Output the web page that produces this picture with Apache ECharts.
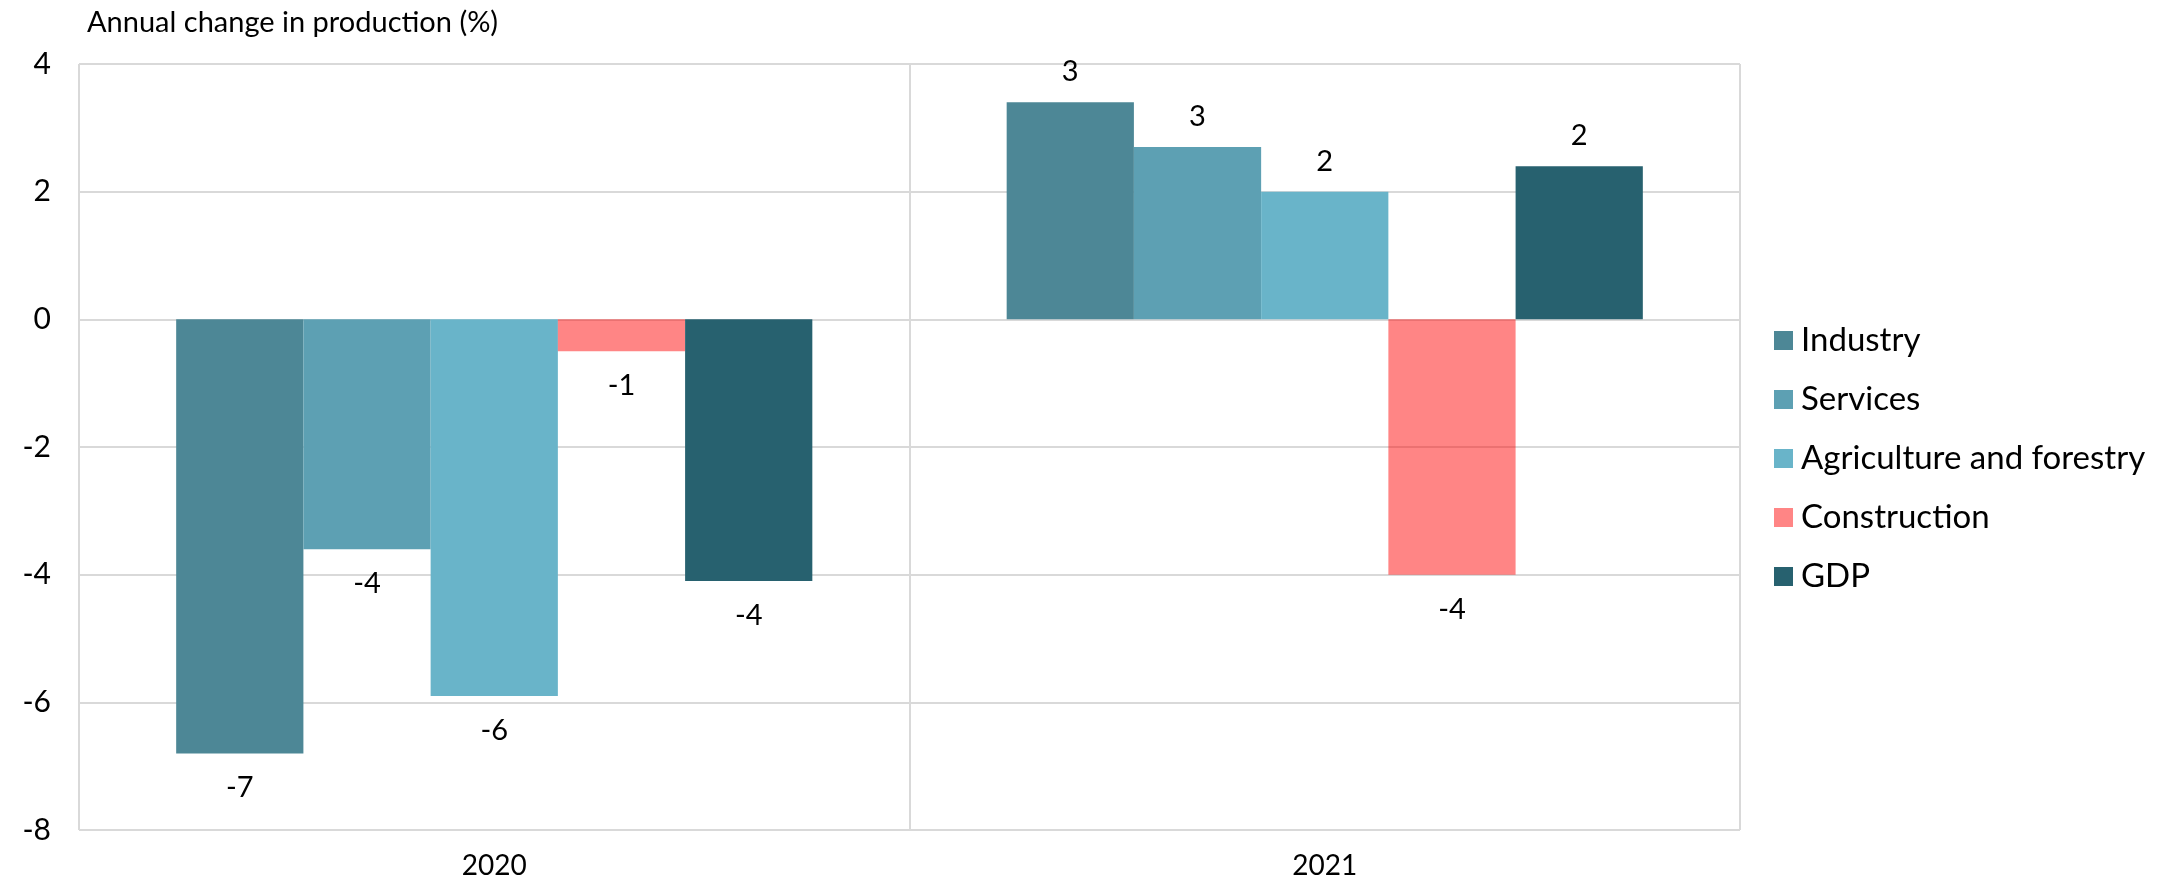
<!DOCTYPE html>
<html>
<head>
<meta charset="utf-8">
<script src="https://cdn.jsdelivr.net/npm/echarts@6/dist/echarts.min.js"></script>
<style>
  html, body { margin: 0; padding: 0; background: #fff; }
  #chart { width: 2169px; height: 882px; }
</style>
</head>
<body>
<div id="chart"></div>
<script>
// Annual change in production by sector, per year (%)
const years = ['2020', '2021'];
const seriesNames = ['Industry', 'Services', 'Agriculture and forestry', 'Construction', 'GDP'];
const industry = [-6.8, 3.4];
const services = [-3.6, 2.7];
const agriculture = [-5.9, 2.0];
const construction = [-0.5, -4.0];
const gdp = [-4.1, 2.4];
const yTicks = [-8, -6, -4, -2, 0, 2, 4];

const colors = ['#4d8796', '#5da0b3', '#69b4c9', 'rgba(255,0,0,0.48)', '#27616f'];
const valueSets = [industry, services, agriculture, construction, gdp];

const FONT = 'Lato';

// Round half away from zero, so -0.5 reads as -1
function roundLabel(v) {
  return Math.sign(v) * Math.round(Math.abs(v));
}

const chart = echarts.init(document.getElementById('chart'), null, { renderer: 'canvas' });

const series = seriesNames.map((name, i) => ({
  name: name,
  type: 'bar',
  barGap: '0%',
  barCategoryGap: '23.4%',
  itemStyle: { color: colors[i] },
  data: valueSets[i].map(v => ({
    value: v,
    label: {
      show: true,
      position: v < 0 ? 'bottom' : 'top',
      distance: v < 0 ? 20 : 16,
      formatter: p => String(roundLabel(p.value)),
      fontFamily: FONT,
      fontSize: 29,
      color: '#000'
    }
  }))
}));

chart.setOption({
  animation: false,
  backgroundColor: '#fff',
  title: {
    text: 'Annual change in production (%)',
    left: 82,
    top: 3,
    textStyle: { fontFamily: FONT, fontSize: 29, fontWeight: 'normal', color: '#000' }
  },
  legend: {
    orient: 'vertical',
    left: 1769,
    top: 319,
    icon: 'rect',
    itemWidth: 19,
    itemHeight: 19,
    itemGap: 26,
    data: seriesNames,
    textStyle: { fontFamily: FONT, fontSize: 33, color: '#000', padding: [0, 0, 0, 3], lineHeight: 32 }
  },
  grid: { left: 79, right: 429, top: 64, bottom: 52, containLabel: false },
  xAxis: {
    type: 'category',
    data: years,
    position: 'bottom',
    axisLine: { show: false, onZero: false },
    axisTick: { show: false },
    splitLine: { show: true, lineStyle: { color: '#d9d9d9', width: 2 } },
    axisLabel: { fontFamily: FONT, fontSize: 28, color: '#000', margin: 22 }
  },
  yAxis: {
    type: 'value',
    min: yTicks[0],
    max: yTicks[yTicks.length - 1],
    interval: 2,
    axisLine: { show: false },
    axisTick: { show: false },
    splitLine: { show: true, lineStyle: { color: '#d9d9d9', width: 2 } },
    axisLabel: { fontFamily: FONT, fontSize: 30, color: '#000', margin: 28 }
  },
  series: series
});
</script>
</body>
</html>
